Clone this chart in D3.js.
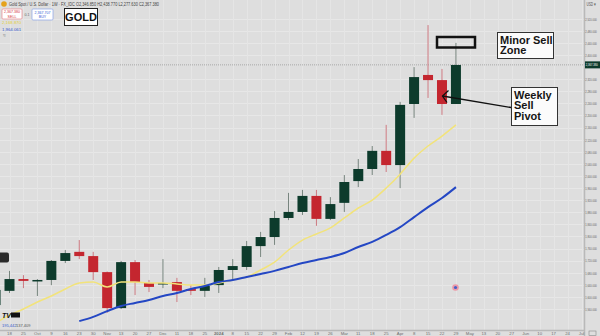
<!DOCTYPE html>
<html>
<head>
<meta charset="utf-8">
<script src="https://cdn.jsdelivr.net/npm/d3@7/dist/d3.min.js"></script>
<style>
    html, body { margin: 0; padding: 0; background: #dedede; overflow: hidden; }
    svg { display: block; font-family: "Liberation Sans", Arial, sans-serif; }
</style>
</head>
<body>
<svg id="chart"></svg>
<script>
// weekly gold candles, first one = week of 11 Sep 2023 (partly off screen)
const opens  = [1573, 1620, 1659, 1653, 1656, 1719, 1749, 1735, 1682, 1563, 1715, 1646, 1643, 1649, 1626, 1620, 1639,
                1689, 1699, 1768, 1798, 1861, 1881, 1934, 1858, 1911, 1983, 2023, 2083, 2036, 2238, 2334, 2317, 2238];
const highs  = [1633, 1686, 1672, 1659, 1722, 1755, 1788, 1749, 1684, 1719, 1722, 1656, 1725, 1663, 1639, 1663, 1699,
                1725, 1785, 1815, 1884, 1944, 1954, 1954, 1930, 2003, 2056, 2099, 2169, 2245, 2360, 2499, 2354, 2440];
const lows   = [1563, 1613, 1629, 1603, 1639, 1712, 1725, 1656, 1547, 1560, 1606, 1616, 1629, 1583, 1606, 1600, 1613,
                1659, 1689, 1732, 1772, 1854, 1871, 1835, 1854, 1881, 1963, 2003, 2013, 1960, 2192, 2258, 2202, 2238];
const closes = [1623, 1659, 1653, 1656, 1719, 1745, 1735, 1682, 1563, 1715, 1649, 1633, 1646, 1620, 1620, 1636, 1689,
                1702, 1768, 1798, 1861, 1881, 1934, 1858, 1907, 1980, 2023, 2083, 2036, 2235, 2327, 2317, 2238, 2367];

// moving averages (yellow fast, blue slow)
const maFast = [1514, 1540, 1560, 1583, 1603, 1626, 1646, 1649, 1633, 1649, 1649, 1646, 1646, 1643, 1639, 1639, 1646,
                1656, 1666, 1689, 1715, 1755, 1788, 1808, 1828, 1861, 1894, 1920, 1960, 2006, 2059, 2099, 2132, 2169];
const maSlow = [null, null, null, null, null, null, 1520, 1534, 1553, 1570, 1580, 1590, 1603, 1613, 1626, 1636, 1649,
                1656, 1666, 1676, 1686, 1699, 1712, 1722, 1732, 1745, 1765, 1782, 1805, 1831, 1864, 1897, 1927, 1963];

// price axis ticks
const priceTicks = [1560, 1600, 1640, 1680, 1720, 1760, 1800, 1840, 1880, 1920, 1960, 2000, 2040, 2080, 2120,
                    2160, 2200, 2240, 2280, 2320, 2400, 2440, 2480, 2520];

// time axis labels, one per week starting 18 Sep 2023
const timeLabels = ["18", "25", "Oct", "9", "16", "23", "30", "Nov", "13", "20", "27", "Dec", "11", "18", "25",
                    "2024", "8", "15", "22", "29", "Feb", "12", "19", "26", "Mar", "11", "18", "25", "Apr", "8",
                    "15", "22", "29", "May", "13", "20", "27", "Jun", "10", "17", "24", "Jul"];

const lastPrice = 2367.38;

function drawChart() {
    const width = 600;
    const height = 336;
    const plotRight = 584;
    const plotBottom = 330;

    const svg = d3.select('#chart')
        .attr('width', width)
        .attr('height', height);

    svg.append('rect')
        .attr('width', width).attr('height', height)
        .attr('fill', '#dedede');

    // index -1 is the first candle
    const x = d3.scaleLinear().domain([0, 41]).range([9.5, 581.5]);
    const y = d3.scaleLinear().domain([1560, 2400]).range([309, 55]);

    const candles = opens.map(function (o, k) {
        return { i: k - 1, o: o, h: highs[k], l: lows[k], c: closes[k] };
    });

    svg.append('clipPath').attr('id', 'plot')
        .append('rect').attr('width', plotRight).attr('height', plotBottom);

    const plot = svg.append('g').attr('clip-path', 'url(#plot)');

    // grid
    plot.selectAll('.hgrid')
        .data(priceTicks)
        .enter()
        .append('line')
        .attr('x1', 0).attr('x2', plotRight)
        .attr('y1', function (d) { return Math.round(y(d)) + 0.5; })
        .attr('y2', function (d) { return Math.round(y(d)) + 0.5; })
        .attr('stroke', '#e7e7e7');

    plot.selectAll('.vgrid')
        .data(timeLabels)
        .enter()
        .append('line')
        .attr('x1', function (d, i) { return Math.round(x(i)) + 0.5; })
        .attr('x2', function (d, i) { return Math.round(x(i)) + 0.5; })
        .attr('y1', 0).attr('y2', plotBottom)
        .attr('stroke', '#e5e5e5');

    // last price line
    plot.append('line')
        .attr('x1', 0).attr('x2', plotRight)
        .attr('y1', y(lastPrice)).attr('y2', y(lastPrice))
        .attr('stroke', '#9a9a9a')
        .attr('stroke-width', 0.8)
        .attr('stroke-dasharray', '1,1');

    // candles
    const bodyW = 10;
    const up = '#0d3b2c', down = '#c4262f';

    var g = plot.selectAll('.candle')
        .data(candles)
        .enter()
        .append('g');

    g.append('line')
        .attr('x1', function (d) { return x(d.i); })
        .attr('x2', function (d) { return x(d.i); })
        .attr('y1', function (d) { return y(d.h); })
        .attr('y2', function (d) { return y(d.l); })
        .attr('stroke', function (d) { return d.c >= d.o ? '#76847d' : '#cd7880'; })
        .attr('stroke-width', 1);

    g.append('rect')
        .attr('x', function (d) { return x(d.i) - bodyW / 2; })
        .attr('width', bodyW)
        .attr('y', function (d) { return y(Math.max(d.o, d.c)); })
        .attr('height', function (d) { return Math.max(1.5, Math.abs(y(d.o) - y(d.c))); })
        .attr('fill', function (d) { return d.c >= d.o ? up : down; });

    // moving averages
    const line = function (arr) {
        return d3.line()
            .defined(function (d) { return d != null; })
            .x(function (d, k) { return x(k - 1); })
            .y(function (d) { return y(d); })
            .curve(d3.curveMonotoneX)(arr);
    };

    plot.append('path')
        .attr('d', line(maFast))
        .attr('fill', 'none')
        .attr('stroke', '#f2e37a')
        .attr('stroke-width', 1.5);

    plot.append('path')
        .attr('d', line(maSlow))
        .attr('fill', 'none')
        .attr('stroke', '#2447c4')
        .attr('stroke-width', 2);

    // axes borders
    svg.append('line')
        .attr('x1', plotRight + 0.5).attr('x2', plotRight + 0.5)
        .attr('y1', 0).attr('y2', height)
        .attr('stroke', '#b9b9b9').attr('stroke-width', 1.5);
    svg.append('line')
        .attr('x1', 0).attr('x2', plotRight)
        .attr('y1', plotBottom + 0.5).attr('y2', plotBottom + 0.5)
        .attr('stroke', '#b9b9b9').attr('stroke-width', 1.5);

    // price axis, labels squeezed sideways so they fit the narrow strip
    const yAxis = d3.axisRight(y)
        .tickValues(priceTicks)
        .tickSize(0)
        .tickPadding(2)
        .tickFormat(function (d) { return d3.format(',.3f')(d); });

    const ya = svg.append('g')
        .attr('transform', 'translate(' + plotRight + ',0)')
        .call(yAxis);
    ya.select('.domain').remove();
    ya.selectAll('text')
        .attr('fill', '#666')
        .attr('transform', 'scale(0.62,1)')
        .style('font-size', '4.2px');

    svg.append('text')
        .attr('transform', 'translate(586.5,5.5) scale(0.7,1)')
        .attr('fill', '#555')
        .style('font-size', '4.5px')
        .text('USD \u25BE');

    // last price tag
    svg.append('rect')
        .attr('x', plotRight + 1).attr('y', y(lastPrice) - 3.5)
        .attr('width', 15).attr('height', 7)
        .attr('fill', '#0d3b2c');
    svg.append('text')
        .attr('transform', 'translate(' + (plotRight + 1.8) + ',' + (y(lastPrice) + 1.6) + ') scale(0.62,1)')
        .attr('fill', '#fff')
        .style('font-size', '4.3px')
        .text(d3.format(',.3f')(lastPrice));

    // time axis
    svg.selectAll('.tlabel')
        .data(timeLabels)
        .enter()
        .append('text')
        .attr('x', function (d, i) { return x(i); })
        .attr('y', 335)
        .attr('text-anchor', 'middle')
        .attr('fill', '#707070')
        .style('font-size', '4.3px')
        .style('font-weight', function (d) { return d === '2024' ? 'bold' : 'normal'; })
        .text(function (d) { return d; });

    svg.append('rect')
        .attr('x', 589).attr('y', 331).attr('width', 7).attr('height', 4.5)
        .attr('fill', 'none').attr('stroke', '#888').attr('stroke-width', 0.6);

    // legend, top left
    svg.append('circle').attr('cx', 4).attr('cy', 4).attr('r', 2.8).attr('fill', '#e5a21c');
    svg.append('text')
        .attr('x', 9).attr('y', 6)
        .attr('fill', '#444')
        .attr('textLength', 150)
        .attr('lengthAdjust', 'spacingAndGlyphs')
        .style('font-size', '4.6px')
        .text('Gold Spot / U.S. Dollar \u00B7 1W \u00B7 FX_IDC   O2,346.850  H2,438.770  L2,277.630  C2,367.380');

    svg.append('rect').attr('x', 2).attr('y', 9).attr('width', 20).attr('height', 10)
        .attr('fill', '#fff').attr('stroke', '#e8868c').attr('stroke-width', 0.7).attr('rx', 1);
    svg.append('text').attr('x', 12).attr('y', 13.2).attr('text-anchor', 'middle')
        .attr('fill', '#d3343c').style('font-size', '3.6px').text('2,367.380');
    svg.append('text').attr('x', 12).attr('y', 17.5).attr('text-anchor', 'middle')
        .attr('fill', '#d3343c').style('font-size', '3.6px').text('SELL');
    svg.append('text').attr('x', 27).attr('y', 15.5).attr('text-anchor', 'middle')
        .attr('fill', '#666').style('font-size', '3.6px').text('0.1');
    svg.append('rect').attr('x', 32).attr('y', 9).attr('width', 21).attr('height', 11)
        .attr('fill', '#fff').attr('stroke', '#8aa4e8').attr('stroke-width', 0.7).attr('rx', 1);
    svg.append('text').attr('x', 42.5).attr('y', 13.6).attr('text-anchor', 'middle')
        .attr('fill', '#3358d4').style('font-size', '3.6px').text('2,367.707');
    svg.append('text').attr('x', 42.5).attr('y', 18).attr('text-anchor', 'middle')
        .attr('fill', '#3358d4').style('font-size', '3.6px').text('BUY');

    svg.append('text').attr('x', 2).attr('y', 24)
        .attr('fill', '#e3cf3a').style('font-size', '4.3px').text('2,168.870');
    svg.append('text').attr('x', 2).attr('y', 30.5)
        .attr('fill', '#3556cc').style('font-size', '4.3px').text('1,964.061');
    svg.append('text').attr('x', 3).attr('y', 37)
        .attr('fill', '#666').style('font-size', '5px').text('\u2248');

    // GOLD label
    svg.append('rect')
        .attr('x', 64.5).attr('y', 8.5).attr('width', 33).attr('height', 17)
        .attr('fill', '#fff').attr('stroke', '#222').attr('stroke-width', 1);
    svg.append('text')
        .attr('x', 81).attr('y', 21)
        .attr('text-anchor', 'middle')
        .attr('fill', '#111')
        .style('font-size', '11px').style('font-weight', 'bold')
        .text('GOLD');

    // bottom left bits
    svg.append('rect').attr('x', -3).attr('y', 252.5).attr('width', 12).attr('height', 10)
        .attr('rx', 2).attr('fill', '#2a2a2a');
    svg.append('text').attr('x', 2).attr('y', 318)
        .attr('fill', '#111').style('font-size', '7px').style('font-weight', 'bold')
        .style('font-style', 'italic').text('TV');
    svg.append('rect').attr('x', 11).attr('y', 312.5).attr('width', 9).attr('height', 5)
        .attr('fill', '#111');
    svg.append('text').attr('x', 2).attr('y', 327)
        .attr('fill', '#3556cc').style('font-size', '4px').text('195,442');
    svg.append('text').attr('x', 16).attr('y', 327)
        .attr('fill', '#555').style('font-size', '4px').text('137,409');

    // economic event marker
    svg.append('circle').attr('cx', 455.5).attr('cy', 287.5).attr('r', 3.3)
        .attr('fill', '#ec9aa8');
    svg.append('circle').attr('cx', 455.5).attr('cy', 287.5).attr('r', 1.6)
        .attr('fill', '#4461c9');

    // annotations
    svg.append('rect')
        .attr('x', 437).attr('y', 37).attr('width', 38).attr('height', 10.5)
        .attr('fill', 'none').attr('stroke', '#111').attr('stroke-width', 2.5);

    function noteBox(x0, y0, w, h, lines, lh) {
        svg.append('rect')
            .attr('x', x0 + 0.5).attr('y', y0 + 0.5).attr('width', w).attr('height', h)
            .attr('fill', '#fbfbfb').attr('stroke', '#333').attr('stroke-width', 1);
        svg.append('g').selectAll('text')
            .data(lines)
            .enter()
            .append('text')
            .attr('x', x0 + 3)
            .attr('y', function (d, k) { return y0 + 11.5 + k * lh; })
            .attr('fill', '#151515')
            .style('font-size', '11px')
            .style('font-weight', 'bold')
            .text(function (d) { return d; });
    }

    noteBox(497, 32, 56, 26, ['Minor Sell', 'Zone'], 10.5);
    noteBox(511, 87, 46, 38, ['Weekly', 'Sell', 'Pivot'], 10.8);

    // arrow to the pivot candle
    svg.append('line')
        .attr('x1', 511).attr('y1', 107.5).attr('x2', 442.5).attr('y2', 96)
        .attr('stroke', '#111').attr('stroke-width', 1.3);
    svg.append('path')
        .attr('d', 'M448.5,90.5 L442.5,96 L447,102.5')
        .attr('fill', 'none').attr('stroke', '#111').attr('stroke-width', 1.3);
}

drawChart();
</script>
</body>
</html>
